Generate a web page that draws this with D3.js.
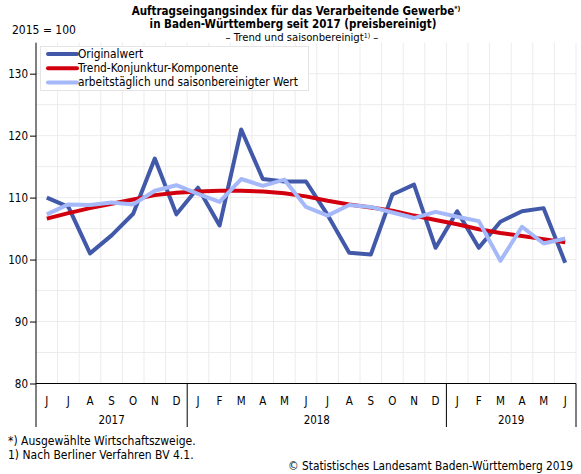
<!DOCTYPE html>
<html lang="de">
<head>
  <meta charset="UTF-8">
  <title>Auftragseingangsindex</title>
  <script src="https://d3js.org/d3.v7.min.js"></script>
  <style>
    body { margin: 0; background: #fff; }
    svg text { font-family: "DejaVu Sans Condensed", "DejaVu Sans", sans-serif; fill: #000; }
    .grid line { stroke: #ececec; stroke-width: 1; }
    .series { fill: none; stroke-width: 4; stroke-linejoin: round; }
  </style>
</head>
<body>
  <svg id="chart"></svg>
  <script>

  // Monate Juni 2017 bis Juni 2019
  var months = ["J","J","A","S","O","N","D","J","F","M","A","M","J","J","A","S","O","N","D","J","F","M","A","M","J"];
  var yearLabels = ["2017", "2018", "2019"];
  var monthsPerYear = [7, 12, 6];

  var original = [110.0,108.5,101.0,103.9,107.4,116.3,107.3,111.6,105.5,121.0,113.0,112.6,112.6,107.2,101.1,100.8,110.5,112.1,101.9,107.8,101.9,106.1,107.8,108.3,99.5];
  var trend    = [106.6,107.5,108.3,109.0,109.7,110.4,110.8,111.0,111.1,111.1,111.0,110.7,110.2,109.5,108.9,108.4,107.9,107.1,106.4,105.7,104.9,104.3,103.8,103.3,102.8];
  var adjusted = [107.3,108.9,108.8,109.2,108.9,111.1,112.0,110.6,109.3,113.0,111.9,112.9,108.5,107.1,108.8,108.5,107.6,106.7,107.7,106.9,106.2,99.8,105.3,102.6,103.4];

  var yTicks = [80, 90, 100, 110, 120, 130];

  var seriesNames = ["Originalwert", "Trend-Konjunktur-Komponente", "arbeitstäglich und saisonbereinigter Wert"];
  var seriesColors = ["#4159a8", "#d2000f", "#a5b8fa"];

  var W = 581, H = 474,
    pLeft = 36, pRight = 576, pTop = 42.7, pBottom = 383.5;

  var svg = d3.select("#chart").attr("width", W).attr("height", H);

  var x = d3.scaleBand().domain(d3.range(months.length)).range([pLeft, pRight]);
  var y = d3.scaleLinear().domain([80, 135]).range([pBottom, pTop]);
  var cx = function(i) { return x(i) + x.bandwidth() / 2; };

  // Gitter
  var grid = svg.append("g").attr("class", "grid");
  grid.selectAll("line.h").data(d3.range(85, 135, 5)).enter().append("line")
    .attr("x1", pLeft).attr("x2", pRight)
    .attr("y1", function(d) { return y(d); }).attr("y2", function(d) { return y(d); });
  grid.selectAll("line.v").data(d3.range(1, months.length + 1)).enter().append("line")
    .attr("x1", function(d) { return x(d - 1) + x.bandwidth(); })
    .attr("x2", function(d) { return x(d - 1) + x.bandwidth(); })
    .attr("y1", pTop).attr("y2", pBottom);

  // y-Achse
  var yAxis = svg.append("g").attr("transform", "translate(" + pLeft + ",0)")
    .call(d3.axisLeft(y).tickValues(yTicks).tickSize(6).tickSizeOuter(0));
  yAxis.select(".domain").remove();
  yAxis.selectAll("text").style("font-size", "11.5px").attr("x", -8);
  yAxis.selectAll("line").attr("stroke", "#000");

  // Kategorienbereich unten
  var axisG = svg.append("g");
  var catBottom = 427;
  axisG.append("line").attr("x1", pLeft).attr("x2", pRight).attr("y1", pBottom).attr("y2", pBottom).attr("stroke", "#000");
  axisG.append("line").attr("x1", pLeft).attr("x2", pLeft).attr("y1", pTop).attr("y2", catBottom).attr("stroke", "#000");

  var starts = [0];
  monthsPerYear.forEach(function(n, i) { starts.push(starts[i] + n); });
  starts.forEach(function(s) {
    if (s === 0) return;
    var xx = x(s - 1) + x.bandwidth();
    axisG.append("line").attr("x1", xx).attr("x2", xx).attr("y1", pBottom).attr("y2", catBottom).attr("stroke", "#000");
  });

  axisG.selectAll("text.m").data(months).enter().append("text")
    .attr("x", function(d, i) { return cx(i); })
    .attr("y", 405)
    .attr("text-anchor", "middle")
    .style("font-size", "11.5px")
    .text(function(d) { return d; });

  axisG.selectAll("text.yr").data(yearLabels).enter().append("text")
    .attr("x", function(d, i) {
      var a = x(starts[i]), b = x(starts[i + 1] - 1) + x.bandwidth();
      return (a + b) / 2;
    })
    .attr("y", 424)
    .attr("text-anchor", "middle")
    .style("font-size", "11.5px")
    .text(function(d) { return d; });

  // Linien
  var line = d3.line().x(function(d, i) { return cx(i); }).y(function(d) { return y(d); });
  [original, trend, adjusted].forEach(function(s, k) {
    svg.append("path").attr("class", "series").attr("d", line(s)).attr("stroke", seriesColors[k]);
  });

  // Legende
  var lg = svg.append("g");
  lg.append("rect").attr("x", 40.5).attr("y", 46.5).attr("width", 268).attr("height", 44)
    .attr("fill", "#fff").attr("stroke", "#e4e4e4");
  seriesNames.forEach(function(name, k) {
    var yy = 54 + k * 14.2;
    lg.append("line").attr("x1", 48).attr("x2", 77).attr("y1", yy).attr("y2", yy)
      .attr("stroke", seriesColors[k]).attr("stroke-width", 4).attr("stroke-linecap", "round");
    lg.append("text").attr("x", 78).attr("y", yy + 4).style("font-size", "11.8px").text(name);
  });

  // Titel
  var t1 = svg.append("text").attr("x", 296).attr("y", 14.5).attr("text-anchor", "middle")
    .style("font-size", "11.5px").style("font-weight", "bold");
  t1.append("tspan").text("Auftragseingangsindex für das Verarbeitende Gewerbe");
  t1.append("tspan").attr("dy", -4).style("font-size", "7px").text("*)");
  svg.append("text").attr("x", 293).attr("y", 27.8).attr("text-anchor", "middle")
    .style("font-size", "11.5px").style("font-weight", "bold")
    .text("in Baden-Württemberg seit 2017 (preisbereinigt)");
  var t3 = svg.append("text").attr("x", 302).attr("y", 40.5).attr("text-anchor", "middle")
    .style("font-size", "11.2px");
  t3.append("tspan").text("– Trend und saisonbereinigt");
  t3.append("tspan").attr("dy", -3).style("font-size", "7px").text("1)");
  t3.append("tspan").attr("dy", 3).text(" –");

  svg.append("text").attr("x", 12).attr("y", 34).style("font-size", "12px").text("2015 = 100");

  // Fußnoten
  svg.append("text").attr("x", 8).attr("y", 445).style("font-size", "12px").text("*) Ausgewählte Wirtschaftszweige.");
  svg.append("text").attr("x", 8).attr("y", 459).style("font-size", "12px").text("1) Nach Berliner Verfahren BV 4.1.");
  svg.append("text").attr("x", 573).attr("y", 470).attr("text-anchor", "end").style("font-size", "11.8px")
    .text("© Statistisches Landesamt Baden-Württemberg 2019");

  </script>
</body>
</html>
